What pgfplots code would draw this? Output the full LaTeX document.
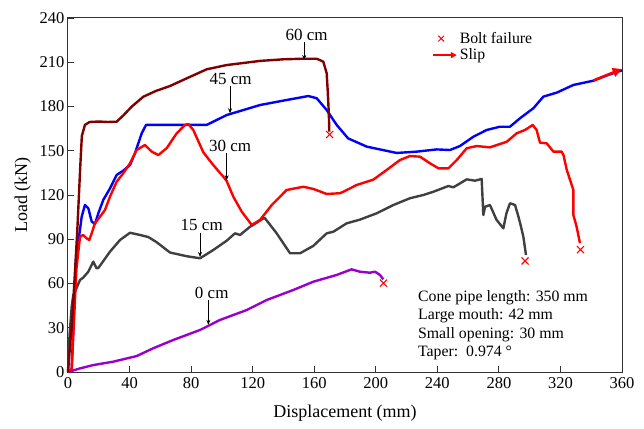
\documentclass[border=0pt]{standalone}
\usepackage{fontspec}
\setmainfont{Liberation Serif}
\usepackage{pgfplots}
\pgfplotsset{compat=1.18}
\usetikzlibrary{arrows.meta, calc}
\definecolor{cSixty}{RGB}{128,0,0}
\definecolor{cFortyFive}{RGB}{0,0,255}
\definecolor{cThirty}{RGB}{255,0,0}
\definecolor{cFifteen}{RGB}{64,64,64}
\definecolor{cZero}{RGB}{153,0,204}
\newcommand{\tfont}{\fontsize{15.8}{18.5}\selectfont}
\newcommand{\cfont}{\fontsize{17}{19}\selectfont}

\begin{document}
\begin{tikzpicture}
\begin{axis}[
  name=ax,
  scale only axis,
  width=554pt, height=354pt,
  xmin=0, xmax=360, ymin=0, ymax=240,
  xtick={0,40,...,360}, ytick={0,30,...,240},
  xtick pos=bottom, ytick pos=left,
  tick align=inside,
  major tick length=6pt,
  axis line style={black!80, line width=1pt},
  tick style={black!80, line width=0.8pt},
  ticklabel style={font=\fontsize{16.5}{19}\selectfont},
  xticklabel style={yshift=-2pt},
  /pgf/number format/assume math mode=true,
  xlabel={Displacement (mm)},
  ylabel={Load (kN)},
  label style={font=\fontsize{18}{20}\selectfont},
  xlabel style={yshift=-9pt},
  ylabel style={yshift=2pt},
  clip=false,
  every axis plot/.append style={line width=2.4pt, line join=round},
  legend style={at={(axis cs:235.5,232.5)}, anchor=north west, draw=none, fill=none,
    font=\tfont, row sep=0pt, inner sep=1pt},
  legend cell align=left,
]

% legend entries
\addlegendimage{only marks, mark=x, cThirty, mark size=4pt, line width=1pt}
\addlegendentry{Bolt failure}
\addlegendimage{legend image code/.code={\draw[cThirty, line width=2pt, -{Triangle[length=6pt,width=6pt]}] (0cm,0cm) -- (0.85cm,0cm);}}
\addlegendentry{Slip}

% 0 cm
\addplot[cZero, forget plot] coordinates {
  (0,0) (8,2.5) (16.4,4.7) (29.4,7) (44.6,10.8) (55.4,16.1) (68.4,21.7)
  (85.8,28.5) (98.8,35.3) (116.1,42) (129.1,48.8) (146.4,55.6) (159.4,61.2)
  (174.6,65.8) (184.3,69.6) (189.7,68) (196.2,67.3) (199.5,68) (202.7,65.8) (204.9,62.8)
};

% 15 cm
\addplot[cFifteen, forget plot] coordinates {
  (0,0) (1,25) (2.4,44.3) (3.4,52) (5.6,57) (7.8,62.4) (9.9,64) (13.2,68)
  (16.4,74.8) (18.6,70.3) (19.7,70.5) (21.9,73.7) (27.3,81.6) (33.8,89.5)
  (40.3,94.4) (46.8,92.9) (52.2,91.5) (57.6,88) (66.3,81) (77.1,78.5) (85.8,77.1)
  (94.4,82.7) (103.1,89) (108.5,94) (111.8,92.9) (118.3,98.5) (120.4,99.7)
  (126.9,104.2) (128,104.2) (133.4,97) (135.6,94) (144.3,80.5) (150.8,80.5)
  (159.4,85.5) (168.1,94) (172.4,95.1) (181.1,100.8) (189.7,103.3) (200.6,107.6)
  (211.4,113.2) (222.2,117.8) (230.9,120) (237.4,122.2) (247.2,126.1) (250.4,125.2)
  (259.1,130.6) (264.5,129.7) (268.8,130.9) (269.9,106.4) (271,112) (274.2,113.2)
  (278.5,103.1) (282.9,97.4) (284.9,107.6) (287.2,114.4) (290.5,113.2)
  (292.7,105.3) (294.1,99.7) (295.9,91.7) (297.6,79.3)
};

% 45 cm
\addplot[cFortyFive, forget plot] coordinates {
  (0,0) (2.4,2) (5.2,76) (6.7,88) (8.9,105.3) (11,113.2) (13.2,111) (15.4,102)
  (17.5,100.3) (19.7,107.6) (22.9,116.6) (27.3,124.5) (31.6,133.6) (35.9,136.5)
  (40.3,140.3) (43.5,148.3) (47.9,161.8) (50.7,167.5) (55.4,167.5) (70,167.5)
  (90.1,167.5) (103.1,174.2) (124.8,181) (140,184) (156.2,187.1) (161.6,185.6)
  (168.1,177.6) (174.6,167.5) (182,158.4) (194.1,152.8) (213.6,148.5) (226.6,149.4)
  (239.6,150.9) (248.2,150.5) (254.7,153.2) (263.4,159.5) (272.1,164.1) (280.7,166.3)
  (287.2,166.3) (293.7,172) (302.4,178.8) (308.9,186.7) (317.6,189.4) (328.4,194.6)
  (341.4,197.5) (350,201) (360,204.5)
};

% 30 cm
\addplot[cThirty, forget plot] coordinates {
  (0,0) (2.4,2) (5.5,70) (7.8,91.7) (9.9,92.9) (12.1,90.6) (13.8,89.5) (15.4,94)
  (17.5,100.8) (20.8,105.3) (24,109.8) (27.3,118.9) (31.6,129) (35.9,134.7)
  (40.3,141.5) (44.6,150.5) (50,153.9) (54.4,149.4) (58.7,147.1) (64.1,151.7)
  (70.6,161.8) (76,167.5) (78.2,168.1) (81.4,164.1) (87.9,149) (94.4,140.3)
  (100.9,132.4) (103.1,129.5) (107.4,118.9) (112.9,108.7) (119.4,99.7) (124.8,103.1)
  (132.4,113.2) (142.1,123.4) (152.9,125.6) (159.4,124.1) (168.1,120.7) (176.7,121.2)
  (178.9,122.2) (187.6,126.8) (198.4,130.4) (207.1,137) (215.7,143.7) (222.2,146.4)
  (228.7,146) (235.2,141.5) (240.7,138.1) (247.2,138.1) (252.6,143.7) (259.1,151.7)
  (265.6,153.2) (274.2,152.3) (285.1,156.1) (291.5,161.8) (297,164.1) (302,167.5)
  (304.5,164.1) (306.7,155.5) (311.1,155) (315.4,149.4) (320.8,149.4) (322,147)
  (324.1,137) (328.4,123.4) (328.4,106.4) (330.5,98.5) (332.7,87.3)
};

% 60 cm
\addplot[cSixty, forget plot] coordinates {
  (0,0) (3,40) (6,95) (8,140) (9,160) (11,167.5) (14,169.5) (20,169.8) (26,169.5)
  (31.6,169.7) (36,174) (41.4,179.9) (48.9,186.6) (57,190.5) (66.3,193.9) (78,199.5)
  (90.1,205.2) (103.1,208.1) (124.8,210.9) (140,212) (152.9,212.4) (161.6,212.4)
  (165.9,210.4) (168.1,202.5) (168.8,190) (169.5,175) (169.8,163)
};

% slip arrow
\addplot[cThirty, line width=2.6pt, -{Triangle[length=9pt,width=9pt]}, forget plot]
  coordinates {(341.4,197.6) (359.8,205.4)};

% bolt failure marks
\addplot[only marks, mark=x, cThirty, mark size=5pt, line width=1.1pt, forget plot]
  coordinates {(170,161) (205,60.3) (297,75.3) (333,83)};

% curve labels
\node[font=\cfont] at (axis cs:155,228.5) {60 cm};
\draw[-{Stealth[length=5pt,width=4pt]}, line width=0.8pt] (axis cs:153.5,224) -- (axis cs:153.5,211.5);
\node[font=\cfont] at (axis cs:105.7,198.5) {45 cm};
\draw[-{Stealth[length=5pt,width=4pt]}, line width=0.8pt] (axis cs:105.3,194) -- (axis cs:105.3,175.4);
\node[font=\cfont] at (axis cs:105.3,153.5) {30 cm};
\draw[-{Stealth[length=5pt,width=4pt]}, line width=0.8pt] (axis cs:103.1,148.5) -- (axis cs:103.1,130);
\node[font=\cfont] at (axis cs:86.9,99.8) {15 cm};
\draw[-{Stealth[length=5pt,width=4pt]}, line width=0.8pt] (axis cs:85.8,94.5) -- (axis cs:85.8,78);
\node[font=\cfont] at (axis cs:93.4,53.5) {0 cm};
\draw[-{Stealth[length=5pt,width=4pt]}, line width=0.8pt] (axis cs:91.2,48.5) -- (axis cs:91.2,32);

% specimen info
\node[font=\tfont, anchor=north west, align=left, inner sep=0pt] at (axis cs:227.4,55.5)
  {Cone pipe length: 350 mm\\Large mouth: 42 mm\\Small opening: 30 mm\\Taper:\ \ 0.974 °};
\end{axis}
\pgfresetboundingbox
\path ($(ax.south west)+(-68pt,-56pt)$) rectangle ($(ax.north east)+(22pt,18pt)$);
\end{tikzpicture}
\end{document}
